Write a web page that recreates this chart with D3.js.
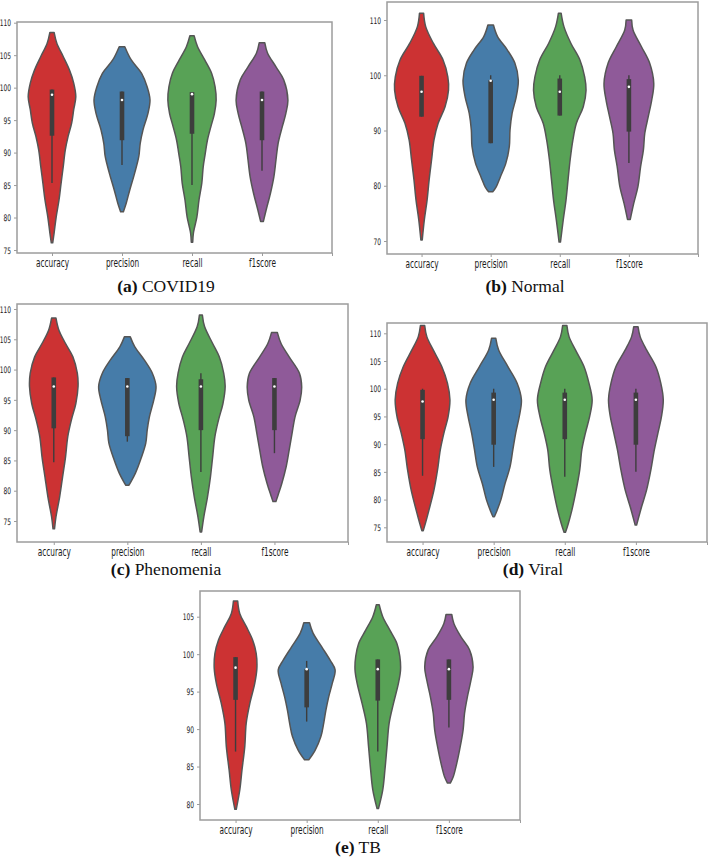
<!DOCTYPE html>
<html>
<head>
<meta charset="utf-8">
<script src="https://cdn.jsdelivr.net/npm/d3@7"></script>
<style>
  html, body { margin: 0; padding: 0; background: #ffffff; }
  svg { display: block; }
</style>
</head>
<body>
<svg id="chart" width="709" height="859"></svg>
<script>
// ---------------- DATA ----------------
const categories = ["accuracy", "precision", "recall", "f1score"];
const captionLetters = ["(a)", "(b)", "(c)", "(d)", "(e)"];
const captionNames = ["COVID19", "Normal", "Phenomenia", "Viral", "TB"];

const covidTicks = [75, 80, 85, 90, 95, 100, 105, 110];
const normalTicks = [70, 80, 90, 100, 110];
const phenTicks = [75, 80, 85, 90, 95, 100, 105, 110];
const viralTicks = [75, 80, 85, 90, 95, 100, 105, 110];
const tbTicks = [80, 85, 90, 95, 100, 105];

// violin outlines: [value, half-width in category units], top to bottom
const covidViolins = [
  [[108.5,0.03],[106.8,0.07],[104.8,0.16],[102.7,0.25],[100.7,0.31],[98.6,0.34],[96.6,0.31],[94.5,0.28],[92.5,0.23],[90.4,0.19],[87.8,0.16],[85.3,0.13],[82.7,0.10],[80.1,0.06],[77.6,0.03],[76.1,0.01]],
  [[106.3,0.04],[104.3,0.13],[102.2,0.28],[100.1,0.36],[98.1,0.40],[96.0,0.37],[93.5,0.30],[91.4,0.26],[89.4,0.24],[86.8,0.18],[84.2,0.11],[82.2,0.06],[80.9,0.02]],
  [[108.0,0.03],[106.3,0.08],[104.3,0.18],[102.2,0.28],[100.1,0.33],[98.1,0.345],[96.0,0.32],[94.0,0.27],[91.9,0.22],[89.9,0.19],[87.8,0.16],[85.3,0.14],[82.7,0.10],[80.1,0.07],[77.6,0.02],[76.2,0.01]],
  [[106.9,0.04],[105.3,0.08],[103.2,0.20],[101.2,0.31],[98.1,0.37],[96.0,0.34],[94.0,0.29],[91.4,0.23],[88.9,0.20],[86.3,0.17],[83.7,0.12],[81.2,0.06],[79.4,0.02]]
];
const normalViolins = [
  [[111.2,0.03],[108.8,0.06],[105.8,0.17],[102.8,0.31],[99.7,0.38],[97.3,0.39],[94.3,0.34],[91.3,0.24],[88.3,0.18],[84.7,0.145],[81.1,0.11],[77.4,0.08],[73.8,0.04],[70.2,0.01]],
  [[109.1,0.04],[107.0,0.10],[104.6,0.24],[102.2,0.35],[99.1,0.40],[96.1,0.37],[93.1,0.31],[90.1,0.28],[87.1,0.27],[84.1,0.22],[81.6,0.14],[79.8,0.08],[78.9,0.03]],
  [[111.2,0.02],[108.8,0.06],[105.8,0.16],[102.8,0.29],[99.7,0.36],[97.3,0.38],[94.3,0.34],[91.3,0.24],[88.3,0.19],[84.7,0.15],[81.1,0.12],[77.4,0.09],[73.8,0.05],[69.8,0.01]],
  [[110.0,0.04],[108.2,0.06],[105.2,0.18],[102.2,0.30],[98.5,0.36],[95.5,0.33],[92.5,0.28],[89.5,0.23],[86.5,0.21],[83.5,0.17],[79.8,0.13],[76.8,0.07],[73.9,0.02]]
];
const phenViolins = [
  [[108.5,0.03],[106.5,0.07],[104.3,0.16],[102.1,0.26],[99.4,0.32],[97.2,0.33],[94.4,0.30],[91.7,0.24],[88.9,0.19],[85.6,0.16],[82.3,0.12],[79.0,0.08],[75.7,0.03],[73.7,0.01]],
  [[105.4,0.04],[103.8,0.10],[101.6,0.23],[99.4,0.34],[97.2,0.39],[95.0,0.36],[92.2,0.30],[90.0,0.27],[87.8,0.25],[85.1,0.18],[82.9,0.11],[81.5,0.05],[80.9,0.02]],
  [[109.0,0.02],[107.1,0.05],[104.3,0.16],[102.1,0.25],[99.4,0.31],[97.2,0.33],[94.4,0.30],[91.7,0.24],[88.9,0.19],[85.6,0.16],[82.3,0.13],[79.0,0.09],[75.7,0.04],[73.2,0.01]],
  [[106.1,0.04],[104.3,0.09],[102.1,0.20],[99.4,0.34],[97.2,0.37],[95.0,0.35],[92.2,0.28],[89.5,0.24],[86.7,0.20],[84.0,0.16],[81.2,0.10],[79.3,0.05],[78.2,0.02]]
];
const viralViolins = [
  [[111.4,0.03],[109.4,0.06],[107.0,0.15],[104.0,0.27],[101.0,0.35],[98.0,0.385],[95.0,0.36],[92.0,0.30],[89.0,0.25],[85.3,0.21],[81.7,0.16],[78.1,0.09],[75.7,0.04],[74.4,0.01]],
  [[109.1,0.03],[107.0,0.07],[104.0,0.20],[101.0,0.33],[98.0,0.39],[95.0,0.36],[92.0,0.31],[89.0,0.27],[85.9,0.23],[82.9,0.16],[79.9,0.10],[77.8,0.04],[76.9,0.01]],
  [[111.4,0.03],[109.4,0.06],[107.0,0.15],[104.0,0.27],[101.0,0.34],[98.0,0.385],[95.0,0.35],[92.0,0.29],[89.0,0.24],[85.3,0.21],[81.7,0.16],[78.1,0.10],[75.7,0.05],[74.1,0.01]],
  [[111.2,0.03],[109.4,0.06],[107.0,0.15],[104.0,0.28],[101.0,0.35],[98.0,0.385],[95.0,0.36],[92.0,0.31],[89.0,0.26],[85.3,0.21],[81.7,0.15],[78.7,0.08],[75.4,0.01]]
];
const tbViolins = [
  [[107.1,0.03],[105.4,0.06],[103.7,0.15],[101.9,0.24],[100.1,0.29],[98.1,0.30],[96.1,0.27],[93.4,0.20],[90.8,0.15],[87.7,0.13],[84.5,0.09],[81.9,0.06],[79.3,0.01]],
  [[104.2,0.04],[102.8,0.09],[101.0,0.21],[99.2,0.33],[97.9,0.40],[96.1,0.36],[94.3,0.31],[92.5,0.27],[90.8,0.24],[89.0,0.20],[87.2,0.12],[85.9,0.03]],
  [[106.6,0.02],[105.0,0.07],[103.2,0.17],[101.4,0.27],[99.7,0.31],[97.9,0.32],[96.1,0.29],[93.4,0.22],[90.8,0.16],[87.7,0.13],[84.5,0.10],[81.9,0.07],[79.4,0.01]],
  [[105.3,0.04],[104.1,0.07],[102.3,0.17],[100.6,0.29],[98.3,0.34],[96.5,0.31],[94.3,0.26],[92.1,0.22],[89.9,0.20],[87.2,0.15],[85.0,0.10],[83.6,0.06],[82.8,0.02]]
];

// inner boxes: [whiskerLow, q1, median, q3, whiskerHigh]
const covidBoxes = [[85.3,92.6,98.9,99.7,99.7],[88.1,91.9,98.1,99.4,99.4],[85.0,92.9,99.0,99.3,99.3],[87.2,91.9,98.1,99.4,99.4]];
const normalBoxes = [[92.5,92.5,97.0,99.9,99.9],[87.7,87.7,99.0,99.1,100.0],[92.7,92.7,97.0,99.4,100.0],[84.1,89.8,97.9,99.3,100.0]];
const phenBoxes = [[84.7,90.3,97.2,98.7,98.7],[88.1,89.0,97.2,98.6,98.6],[83.1,90.0,97.2,98.4,99.4],[86.2,90.0,97.2,98.6,98.6]];
const viralBoxes = [[84.3,90.9,97.7,99.8,100.0],[85.9,89.9,98.0,99.3,100.0],[84.1,90.9,98.0,99.3,100.0],[85.0,89.9,98.0,99.3,100.0]];
const tbBoxes = [[87.0,93.9,98.2,99.6,99.6],[91.0,92.9,98.0,98.0,99.1],[87.0,93.8,98.0,99.3,99.3],[90.2,93.9,98.0,99.3,99.3]];

// ---------------- LAYOUT / STYLE ----------------
const colors = ["#cc3233", "#467ca9", "#58a256", "#8f5a99"];
const panels = [
  {L:17,  R:332, T:22,  B:253, yv:[110,75], yp:[22.7,250],   ticks:covidTicks,  violins:covidViolins,  boxes:covidBoxes,  cx:166, cy:292},
  {L:387, R:698, T:2,   B:254, yv:[110,70], yp:[20,241],     ticks:normalTicks, violins:normalViolins, boxes:normalBoxes, cx:525, cy:292},
  {L:17,  R:348, T:304, B:542, yv:[110,75], yp:[309,521],    ticks:phenTicks,   violins:phenViolins,   boxes:phenBoxes,   cx:166, cy:575},
  {L:387, R:707, T:323, B:542, yv:[110,75], yp:[333.3,527.3],ticks:viralTicks,  violins:viralViolins,  boxes:viralBoxes,  cx:533, cy:575},
  {L:200, R:520, T:591, B:820, yv:[105,80], yp:[616.7,804],  ticks:tbTicks,     violins:tbViolins,     boxes:tbBoxes,     cx:358, cy:853}
];

const svg = d3.select("#chart");

panels.forEach((p, pi) => {
  const g = svg.append("g");
  const x = d3.scaleLinear().domain([-0.5, 4]).range([p.L, p.R]);
  const y = d3.scaleLinear().domain(p.yv).range(p.yp);

  // frame
  g.append("rect")
    .attr("x", p.L).attr("y", p.T)
    .attr("width", p.R - p.L).attr("height", p.B - p.T)
    .attr("fill", "#ffffff").attr("stroke", "#9c9c9c").attr("stroke-width", 1.5);

  // y axis
  const yAxis = d3.axisLeft(y).tickValues(p.ticks).tickSize(3).tickPadding(3).tickFormat(d3.format("d"));
  const ya = g.append("g").attr("transform", `translate(${p.L},0)`).call(yAxis);
  ya.select(".domain").remove();
  ya.selectAll(".tick line").attr("stroke", "#9c9c9c");
  ya.selectAll(".tick text").each(function() {
    const t = d3.select(this);
    const xx = +t.attr("x");
    t.attr("x", null).attr("dy", "0.35em")
     .attr("transform", `translate(${xx},0) scale(0.66,1)`)
     .attr("font-family", "DejaVu Sans").attr("font-size", 9).attr("fill", "#222");
  });

  // x axis
  const xAxis = d3.axisBottom(x).tickValues([0,1,2,3,4]).tickSize(3)
    .tickFormat(i => categories[i] || "");
  const xa = g.append("g").attr("transform", `translate(0,${p.B})`).call(xAxis);
  xa.select(".domain").remove();
  xa.selectAll(".tick line").attr("stroke", "#9c9c9c");
  xa.selectAll(".tick text").each(function() {
    const t = d3.select(this);
    t.attr("y", null).attr("dy", null)
     .attr("transform", `translate(0,13.5) scale(0.64,1)`)
     .attr("font-family", "DejaVu Sans").attr("font-size", 11.5).attr("fill", "#1a1a1a");
  });

  // violins
  p.violins.forEach((prof, i) => {
    const area = d3.area()
      .y(d => y(d[0]))
      .x0(d => x(i - d[1]))
      .x1(d => x(i + d[1]))
      .curve(d3.curveCatmullRom.alpha(0.5));
    g.append("path").datum(prof)
      .attr("d", area)
      .attr("fill", colors[i])
      .attr("stroke", "#555555").attr("stroke-width", 1.5)
      .attr("stroke-linejoin", "round");
  });

  // inner boxes
  p.boxes.forEach((b, i) => {
    const cx = x(i);
    g.append("line").attr("x1", cx).attr("x2", cx)
      .attr("y1", y(b[0])).attr("y2", y(b[4]))
      .attr("stroke", "#3d3d3d").attr("stroke-width", 1.4);
    g.append("line").attr("x1", cx).attr("x2", cx)
      .attr("y1", y(b[1])).attr("y2", y(b[3]))
      .attr("stroke", "#3d3d3d").attr("stroke-width", 4.6);
    g.append("circle").attr("cx", cx).attr("cy", y(b[2])).attr("r", 1.3)
      .attr("fill", "#ffffff");
  });

  // caption
  const cap = svg.append("text")
    .attr("x", p.cx).attr("y", p.cy)
    .attr("text-anchor", "middle")
    .attr("font-family", "Liberation Serif, Times New Roman, serif")
    .attr("font-size", 17.5).attr("fill", "#111");
  cap.append("tspan").attr("font-weight", "bold").text(captionLetters[pi]);
  cap.append("tspan").text(" " + captionNames[pi]);
});
</script>
</body>
</html>
